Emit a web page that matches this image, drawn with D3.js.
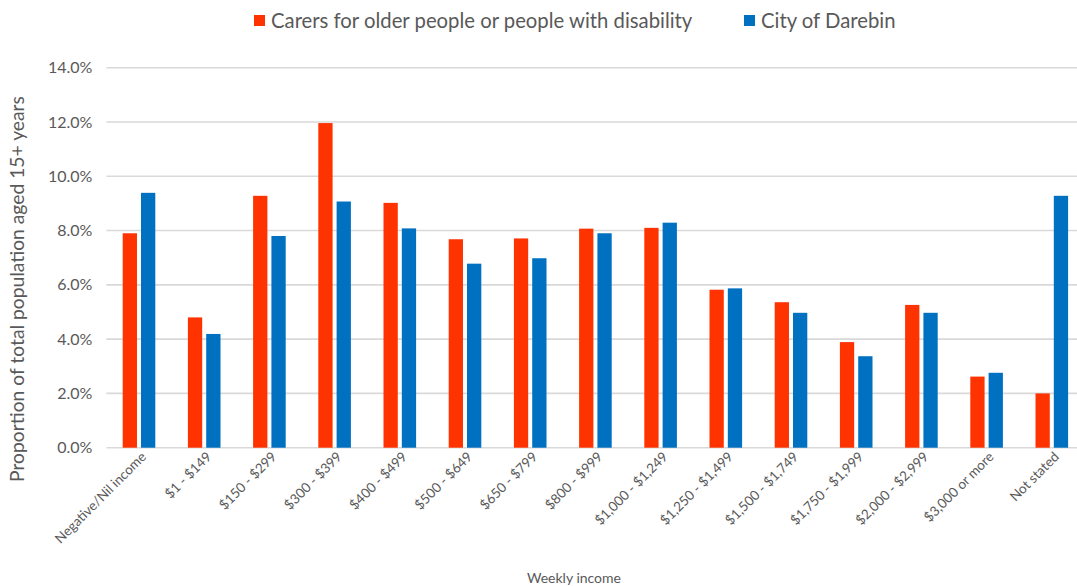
<!DOCTYPE html>
<html>
<head>
<meta charset="utf-8">
<script src="https://cdn.jsdelivr.net/npm/d3@7"></script>
<style>
  html, body { margin: 0; padding: 0; background: #fff; overflow: hidden; }
  svg { display: block; font-family: Lato, "Open Sans", sans-serif; }
</style>
</head>
<body>
<svg id="chart" width="1077" height="586"></svg>
<script>
// Weekly income bands
const categories = [
  "Negative/Nil income", "$1 - $149", "$150 - $299", "$300 - $399", "$400 - $499",
  "$500 - $649", "$650 - $799", "$800 - $999", "$1,000 - $1,249", "$1,250 - $1,499",
  "$1,500 - $1,749", "$1,750 - $1,999", "$2,000 - $2,999", "$3,000 or more", "Not stated"
];

// Series names
const seriesNames = ["Carers for older people or people with disability", "City of Darebin"];

// Proportion of population aged 15+ (%)
const carers = [7.90, 4.80, 9.28, 11.96, 9.02, 7.68, 7.71, 8.07, 8.10, 5.82, 5.36, 3.89, 5.26, 2.62, 2.00];
const darebin = [9.39, 4.19, 7.80, 9.07, 8.08, 6.78, 6.98, 7.90, 8.29, 5.87, 4.97, 3.37, 4.97, 2.76, 9.28];

// Y axis ticks (%)
const yTicks = [0, 2, 4, 6, 8, 10, 12, 14];

const colors = ["#FF3300", "#0070C0"];
const textColor = "#595959";
const gridColor = "#D9D9D9";

const svg = d3.select("#chart");

const plot = { left: 106.4, right: 1084.4, top: 67.7, bottom: 447.7 };

const x0 = d3.scaleBand()
  .domain(categories)
  .range([plot.left, plot.right])
  .paddingInner(0.5)
  .paddingOuter(0.25);

const x1 = d3.scaleBand()
  .domain(seriesNames)
  .range([0, x0.bandwidth()])
  .paddingInner(0.22);

const y = d3.scaleLinear()
  .domain([0, 14])
  .range([plot.bottom, plot.top]);

// Horizontal gridlines
svg.append("g")
  .selectAll("line")
  .data(yTicks)
  .join("line")
  .attr("x1", plot.left)
  .attr("x2", 1077)
  .attr("y1", d => y(d))
  .attr("y2", d => y(d))
  .attr("stroke", gridColor)
  .attr("stroke-width", 1.6);

// Y axis labels
const yAxis = d3.axisLeft(y)
  .tickValues(yTicks)
  .tickFormat(d => d.toFixed(1) + "%")
  .tickSize(0)
  .tickPadding(14);

const yg = svg.append("g")
  .attr("transform", `translate(${plot.left},0)`)
  .call(yAxis);
yg.select(".domain").remove();
yg.selectAll("text")
  .attr("fill", textColor)
  .style("font-size", "16px")
  .style("font-family", "Lato, sans-serif");

// Bars
const rows = categories.map((c, i) => ({ cat: c, values: [carers[i], darebin[i]] }));

const groups = svg.append("g")
  .selectAll("g")
  .data(rows)
  .join("g")
  .attr("transform", d => `translate(${x0(d.cat)},0)`);

groups.selectAll("rect")
  .data(d => d.values.map((v, j) => ({ key: seriesNames[j], value: v, j })))
  .join("rect")
  .attr("x", d => x1(d.key))
  .attr("width", x1.bandwidth())
  .attr("y", d => y(d.value))
  .attr("height", d => y(0) - y(d.value))
  .attr("fill", d => colors[d.j]);

// X axis labels, rotated
const xAxis = d3.axisBottom(x0).tickSize(0).tickPadding(0);
const xg = svg.append("g")
  .attr("transform", `translate(0,${plot.bottom})`)
  .call(xAxis);
xg.select(".domain").remove();
xg.selectAll("text")
  .attr("fill", textColor)
  .style("font-size", "13.5px")
  .style("font-family", "Lato, sans-serif")
  .attr("text-anchor", "end")
  .attr("dy", null)
  .attr("y", 0)
  .attr("transform", "translate(8,10) rotate(-45)");

// Y axis title
svg.append("text")
  .attr("transform", "translate(24,289) rotate(-90)")
  .attr("text-anchor", "middle")
  .attr("fill", textColor)
  .style("font-size", "19.3px")
  .text("Proportion of total population aged 15+ years");

// X axis title
svg.append("text")
  .attr("x", 574)
  .attr("y", 583)
  .attr("text-anchor", "middle")
  .attr("fill", textColor)
  .style("font-size", "14px")
  .text("Weekly income");

// Legend
const legend = svg.append("g");
const legendItems = [
  { name: seriesNames[0], x: 254, color: colors[0] },
  { name: seriesNames[1], x: 744, color: colors[1] }
];
legendItems.forEach(it => {
  legend.append("rect")
    .attr("x", it.x)
    .attr("y", 15)
    .attr("width", 11)
    .attr("height", 11)
    .attr("fill", it.color);
  legend.append("text")
    .attr("x", it.x + 17)
    .attr("y", 28)
    .attr("fill", textColor)
    .style("font-size", "20.3px")
    .text(it.name);
});
</script>
</body>
</html>
